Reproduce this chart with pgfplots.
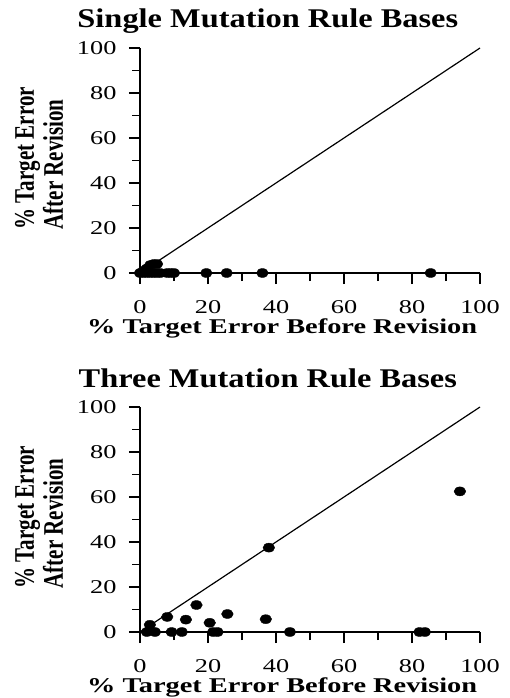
\documentclass[border=0pt]{standalone}
\usepackage{graphicx}
\usepackage{pgfplots}
\pgfplotsset{compat=1.18}
\usepackage{fontspec}
\setmainfont[FakeStretch=1.35]{Liberation Serif}
\newfontfamily\titlefont[FakeStretch=1.2]{Liberation Serif}
\newfontfamily\ylfont{Liberation Serif}
\newcommand{\yl}[1]{\scalebox{1}[1.35]{#1}}
\begin{document}
\begin{tikzpicture}[x=1pt,y=1pt]
\useasboundingbox (0,0) rectangle (510,-698);
\pgfplotsset{
 myax/.style={
  scale only axis, width=340pt, height=225pt,
  xmin=0,xmax=100,ymin=0,ymax=100,
  axis lines*=left,
  axis line style={line width=1.5pt, black},
  xtick={0,20,...,100}, ytick={0,20,...,100},
  minor xtick={10,30,...,90}, minor ytick={10,30,...,90},
  tick align=outside, major tick length=11pt, minor tick length=8pt,
  tick style={line width=1.5pt, black},
  minor tick style={line width=1.5pt, black},
  /pgf/number format/assume math mode=true,
  ticklabel style={font=\fontsize{19.5}{19.5}\selectfont},
  xticklabel style={yshift=-13pt},
  yticklabel style={xshift=-9pt},
  clip=false,
  xlabel={\bfseries\% Target Error Before Revision},
  xlabel style={font=\fontsize{21}{21}\selectfont, at={(axis description cs:0.418,0)}, anchor=base, yshift=-60pt},
  ylabel={\yl{\% Target Error}\\\yl{After Revision}},
  ylabel style={font=\ylfont\bfseries\fontsize{21}{29}\selectfont, align=left, at={(axis description cs:-0.297,0.51)}, anchor=center},
  title style={font=\titlefont\bfseries\fontsize{27}{27}\selectfont, at={(axis description cs:0.376,1)}, anchor=base, yshift=14pt},
 }
}
\begin{axis}[myax, at={(140pt,-273pt)}, anchor=origin, title={Single Mutation Rule Bases}]
\addplot[black, line width=1.2pt] coordinates {(0,0) (100,100)};
\addplot[only marks, mark=*, mark size=4.5pt, mark options={fill=black, draw=black, xscale=1.3}] coordinates {
(0,0) (1,0) (2,0) (3,0) (4,0) (5,0) (6,0) (8,0) (9,0) (10,0)
(19.5,0) (25.5,0) (36,0) (85.5,0)
(1,1) (2,2) (3,3.5) (4,4) (5,4)
};
\end{axis}
\begin{axis}[myax, at={(140pt,-632pt)}, anchor=origin, title={Three Mutation Rule Bases}]
\addplot[black, line width=1.2pt] coordinates {(0,0) (100,100)};
\addplot[only marks, mark=*, mark size=4.5pt, mark options={fill=black, draw=black, xscale=1.3}] coordinates {
(2,0) (2.9,3.2) (4.4,0) (9.3,0) (12.3,0) (8,6.7) (13.5,5.5) (16.6,12)
(20.5,4.1) (21.5,0) (22.8,0) (25.7,8) (37,5.7) (44.1,0)
(37.9,37.5) (94.1,62.5) (82.2,0) (83.8,0)
};
\end{axis}
\end{tikzpicture}
\end{document}
